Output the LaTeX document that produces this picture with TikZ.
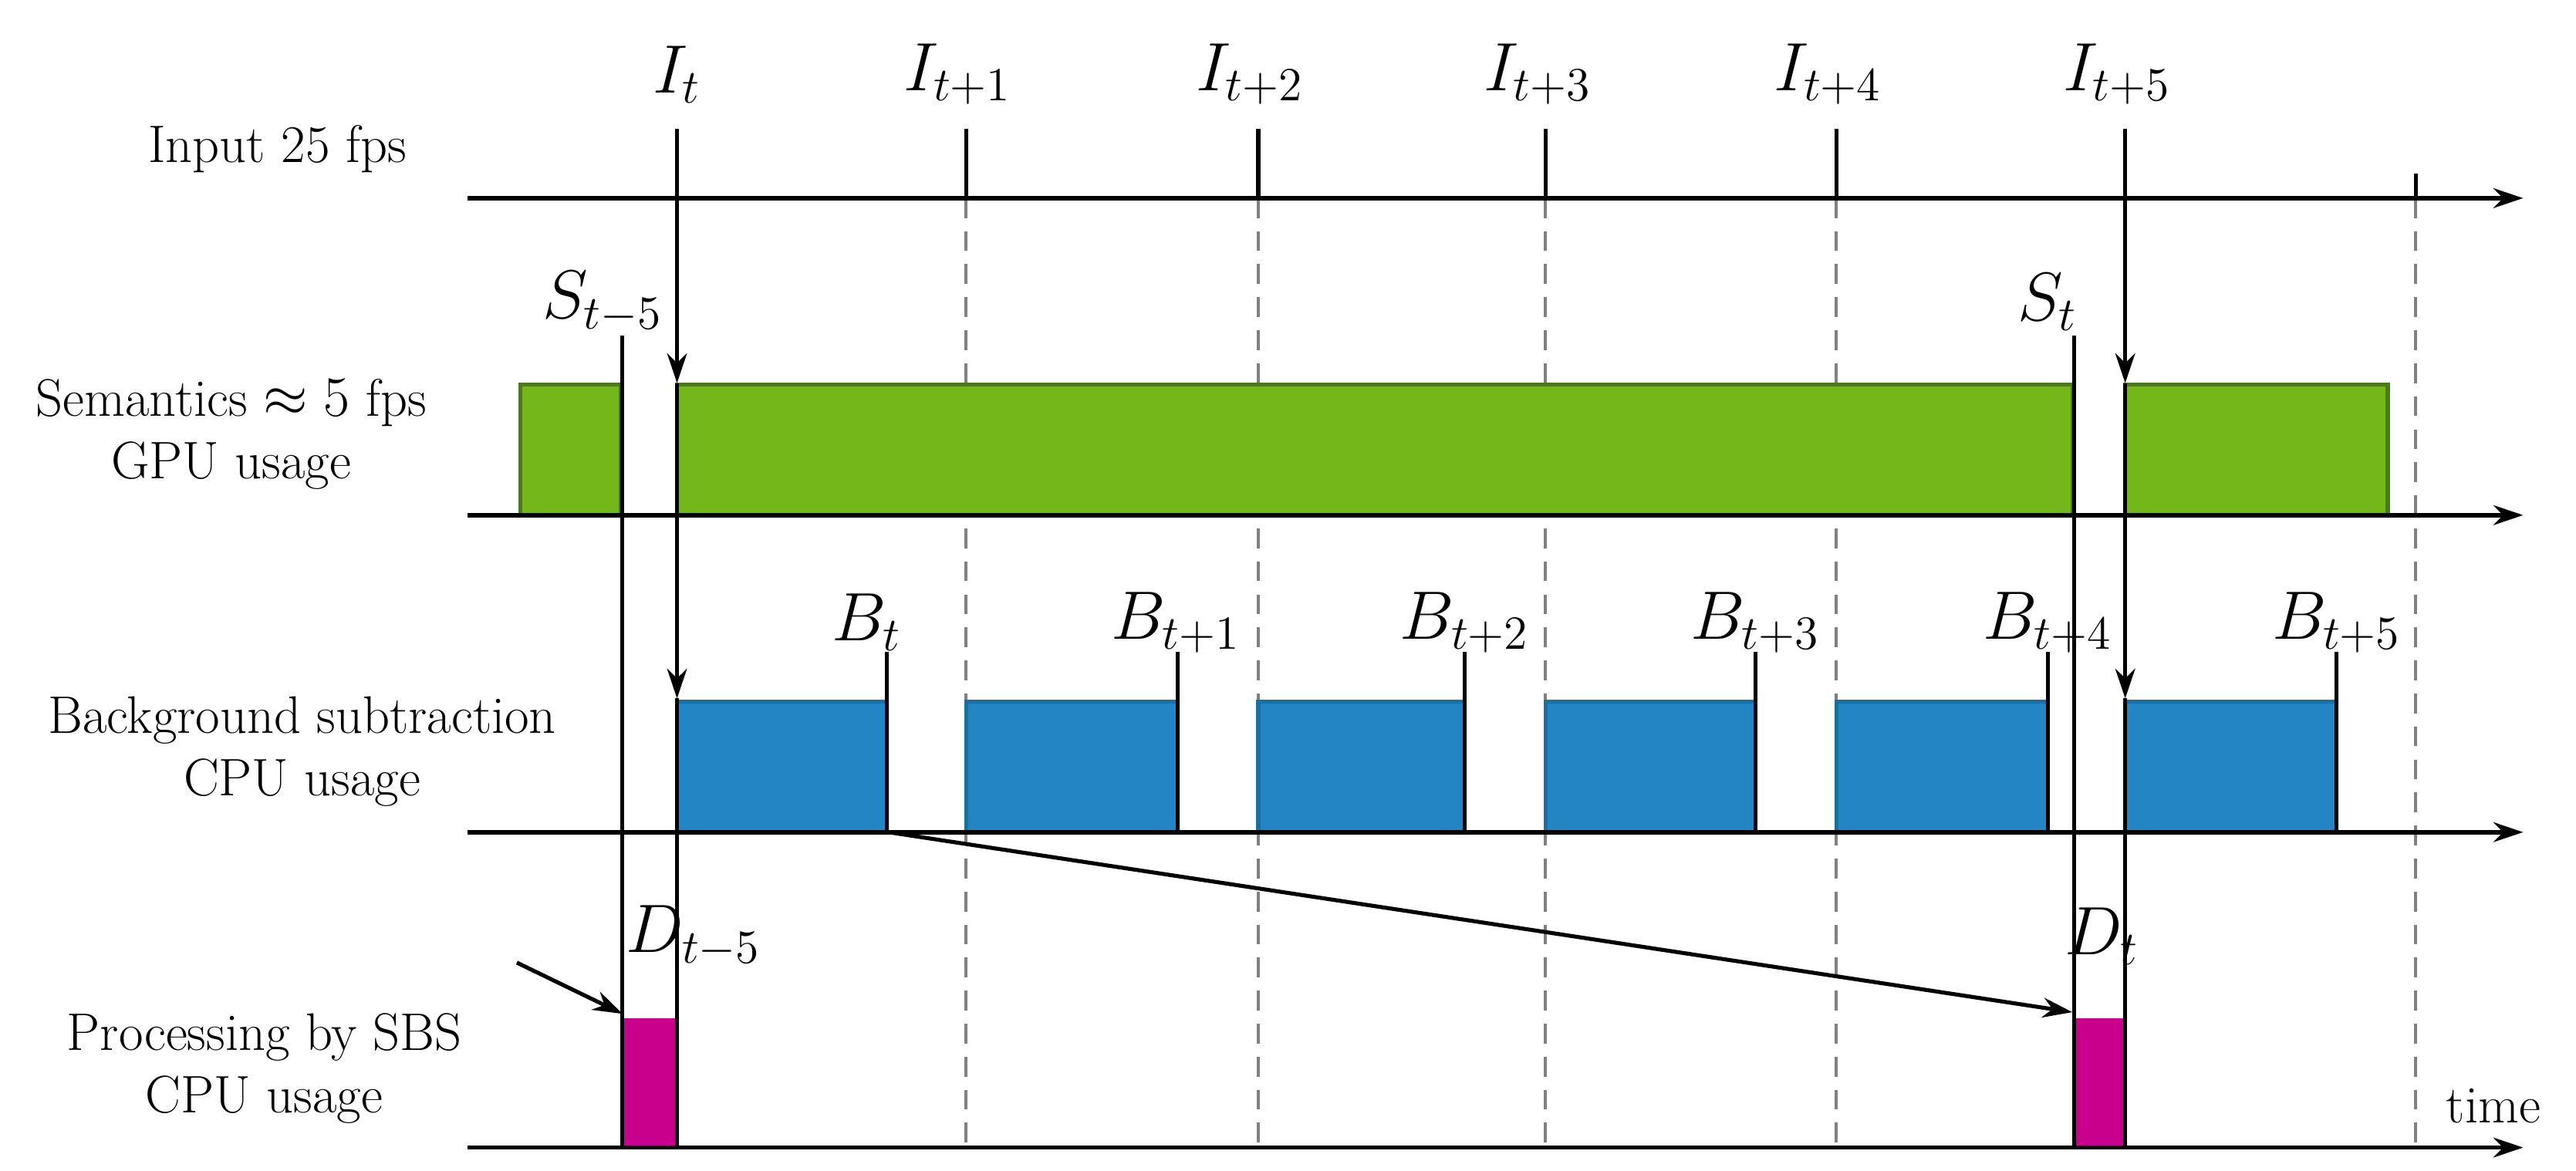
\documentclass[tikz,border=0pt]{standalone}
\usetikzlibrary{arrows.meta}
\definecolor{gr}{HTML}{74B71B}\definecolor{grd}{HTML}{4A7A1A}
\definecolor{bl}{HTML}{2385C4}\definecolor{bld}{HTML}{1A6FA0}
\definecolor{mg}{HTML}{C8008C}
\begin{document}
\begin{tikzpicture}[x=0.5pt,y=-0.5pt,
 axis/.style={line width=1.3pt,-{Stealth[length=9pt,width=6pt]}},
 arr/.style={line width=1.2pt,-{Stealth[length=9pt,width=6pt]}},
 vl/.style={line width=1.2pt},
 dsh/.style={gray,dashed,line width=0.9pt,dash pattern=on 6pt off 4pt},
 row/.style={font=\fontsize{16}{19}\selectfont,align=center},
 ml/.style={font=\fontsize{21}{24}\selectfont,inner sep=0pt},
 grb/.style={fill=gr,draw=grd,line width=1.2pt},
 blb/.style={fill=bl,draw=bld,line width=1.2pt},
 mgb/.style={fill=mg,draw=mg}]
\useasboundingbox (0,0) rectangle (1560,709);
% dashed
\foreach \x in {585,762,936,1112,1463} \draw[dsh] (\x,120) -- (\x,695);
% bars
\draw[grb] (315,233) rectangle (376,312);
\draw[grb] (410,233) rectangle (1255,312);
\draw[grb] (1287,233) rectangle (1446,312);
\foreach \a/\b in {410/537,585/713,762/887,936/1063,1112/1240,1287/1415}{
 \draw[blb] (\a,425) rectangle (\b,504);
 \draw[vl] (\b,395) -- (\b,504);}
\draw[mgb] (378,617) rectangle (410,695);
\draw[mgb] (1256,617) rectangle (1287,695);
% axes
\foreach \y/\n in {120/a1,312/a2,504/a3,695/a4}{
 \coordinate (\n s) at (283,\y); \coordinate (\n e) at (1528,\y);
 \draw[axis] (\n s) -- (\n e);}
% input ticks
\foreach \x in {585,762,936,1112} \draw[vl] (\x,78) -- (\x,120);
\draw[vl] (1463,105) -- (1463,120);
% I_t and I_t+5 lines
\foreach \x in {410,1287}{
 \draw[arr] (\x,78) -- (\x,232);
 \draw[arr] (\x,232) -- (\x,423);
 \draw[vl] (\x,423) -- (\x,695);}
% S lines
\draw[vl] (377,203) -- (377,695);
\draw[vl] (1256,203) -- (1256,695);
% arrows into SBS
\coordinate (p0) at (313,583);
\coordinate (q0) at (377,614);
\draw[arr] (p0) -- (q0);
\coordinate (bt) at (538,504);
\coordinate (dt) at (1255,613);
\draw[arr] (bt) -- (dt);
% labels
\node[ml] (It) at (410,45) {$I_t$};
\node[ml] (I1) at (580,45) {$I_{t+1}$};
\node[ml] (I2) at (757,45) {$I_{t+2}$};
\node[ml] (I3) at (931,45) {$I_{t+3}$};
\node[ml] (I4) at (1107,45) {$I_{t+4}$};
\node[ml] (I5) at (1282,45) {$I_{t+5}$};
\node[ml] (S5) at (365,183) {$S_{t-5}$};
\node[ml] (St) at (1240,183) {$S_t$};
\node[ml] (B0) at (525,377) {$B_t$};
\node[ml] (B1) at (712,377) {$B_{t+1}$};
\node[ml] (B2) at (887,377) {$B_{t+2}$};
\node[ml] (B3) at (1063,377) {$B_{t+3}$};
\node[ml] (B4) at (1240,377) {$B_{t+4}$};
\node[ml] (B5) at (1415,377) {$B_{t+5}$};
\node[ml] (D5) at (420,567) {$D_{t-5}$};
\node[ml] (Dt) at (1273,567) {$D_t$};
\node[row] (r1) at (168,90) {Input 25 fps};
\node[row] (r2) at (140,263) {Semantics $\approx 5$ fps\\GPU usage};
\node[row] (r3) at (183,455) {Background subtraction\\CPU usage};
\node[row] (r4) at (160,647) {Processing by SBS\\CPU usage};
\node[row] (tm) at (1510,670) {time};
\end{tikzpicture}
\end{document}
